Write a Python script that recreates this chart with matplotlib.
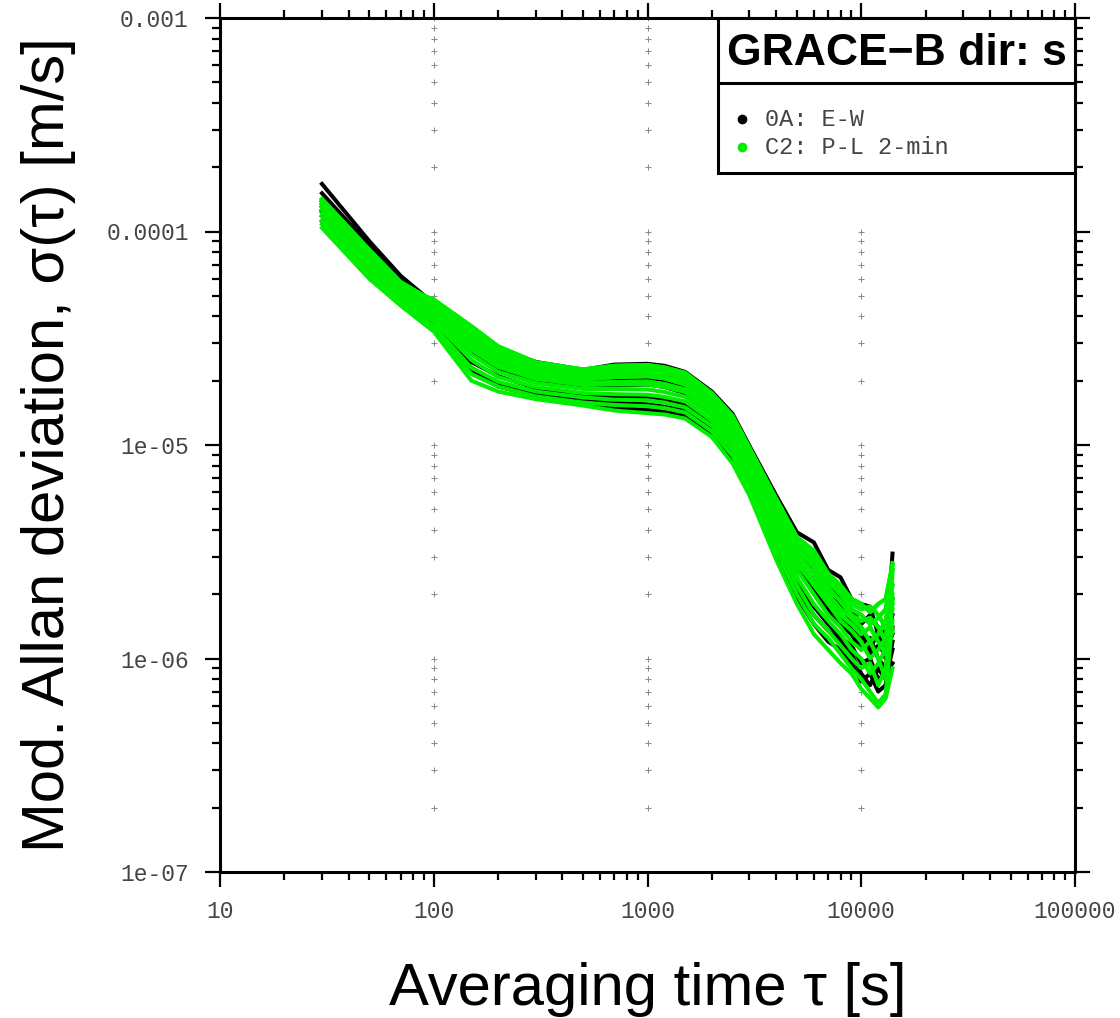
import numpy as np
import matplotlib
matplotlib.use("Agg")
import matplotlib.pyplot as plt
from matplotlib.ticker import LogLocator, NullFormatter
from matplotlib.patches import Rectangle

# averaging times [s]
tau = [30, 50, 70, 100, 150, 200, 300, 500, 700, 1000, 1200, 1500, 2000, 2500, 3000,
       4000, 5000, 6000, 7000, 8000, 9000, 10000, 11000, 12000, 13000, 14000]

# 0A: E-W curves, modified Allan deviation in 1e-6 m/s
ew_curves = [
    [167, 90, 62, 46, 34, 28.5, 24.5, 22.5, 23.8, 24, 23.5, 22, 17.8, 14.0, 9.9, 5.8, 3.9, 3.5, 2.6, 2.4, 1.9, 1.8, 1.75, 1.3, 1.0, 3.1],
    [151, 86, 59, 44, 31, 26, 22.5, 20.8, 21.2, 21.5, 21.0, 19.8, 15.8, 12.3, 8.6, 4.9, 3.2, 2.5, 2.0, 1.75, 1.5, 1.3, 1.1, 1.35, 1.2, 1.6],
    [138, 70, 50, 38, 23, 19.5, 17.5, 16.3, 15.8, 15.5, 15.1, 14.5, 12, 9.2, 6.6, 3.4, 2.1, 1.6, 1.35, 1.2, 1.05, 0.85, 0.75, 0.9, 0.8, 1.1],
    [131, 76, 54, 40, 27, 23, 20, 18.8, 19, 19.2, 18.7, 17.5, 14, 10.9, 7.7, 4.2, 2.6, 2.1, 1.7, 1.45, 1.3, 1.1, 1.25, 1.0, 0.9, 1.4],
    [124, 72, 53, 41, 32.5, 27, 23.5, 21.8, 22.5, 22.8, 22.2, 21, 16.8, 13.1, 9.2, 5.3, 3.4, 2.9, 2.3, 1.9, 1.7, 1.45, 1.6, 1.4, 1.3, 1.9],
    [112, 66, 48, 37, 24.5, 21, 18.5, 17.3, 16.8, 16.8, 16.4, 15.6, 12.8, 9.9, 7.0, 3.7, 2.3, 1.75, 1.45, 1.25, 1.15, 0.95, 1.0, 0.8, 0.85, 0.95],
    [126, 68, 49, 36, 22, 18.8, 17, 15.8, 15, 14.6, 14.3, 13.8, 11.4, 8.6, 6.2, 3.1, 1.95, 1.45, 1.2, 1.1, 0.95, 0.78, 0.85, 0.7, 0.75, 1.2],
    [118, 70, 51, 39, 29, 24.5, 21.2, 19.8, 20.2, 20.5, 20.0, 18.6, 15, 11.7, 8.2, 4.5, 2.9, 2.3, 1.85, 1.55, 1.4, 1.2, 1.05, 1.15, 1.05, 1.3],
]

# C2: P-L 2-min curves, 1e-6 m/s
pl_curves = [
    [104, 60, 45, 34, 20, 17.8, 16.4, 15.3, 14.5, 14.1, 13.9, 13.3, 10.9, 8.2, 5.8, 2.9, 1.8, 1.3, 1.1, 0.95, 0.85, 0.72, 0.65, 0.59, 0.65, 0.9],
    [108, 63, 46, 35, 21.5, 18.8, 16.9, 15.8, 15.4, 15.2, 14.9, 14.2, 11.6, 8.9, 6.3, 3.2, 2.0, 1.45, 1.25, 1.05, 0.9, 0.8, 0.7, 0.62, 0.68, 1.5],
    [112, 64, 47, 36, 23, 19.8, 17.8, 16.7, 16.3, 16.2, 15.8, 15, 12.3, 9.5, 6.7, 3.5, 2.2, 1.6, 1.35, 1.15, 1.0, 0.9, 0.95, 0.75, 0.9, 2.0],
    [118, 66, 48, 38, 25, 20.8, 18.7, 17.5, 17.3, 17.2, 16.8, 16, 13, 10.1, 7.1, 3.8, 2.4, 1.8, 1.5, 1.3, 1.1, 1.0, 0.85, 0.95, 1.1, 1.7],
    [122, 68, 50, 39.5, 26.5, 22, 19.5, 18.3, 18.3, 18.2, 17.7, 16.8, 13.7, 10.6, 7.5, 4.1, 2.6, 2.0, 1.6, 1.4, 1.2, 1.1, 1.2, 1.0, 0.8, 2.5],
    [126, 70, 52, 41, 28, 23.2, 20.4, 19.1, 19.2, 19.2, 18.7, 17.7, 14.3, 11.1, 7.9, 4.4, 2.8, 2.2, 1.8, 1.5, 1.35, 1.2, 1.0, 1.1, 1.25, 2.8],
    [130, 72, 53, 42, 29, 24, 20.9, 19.5, 19.7, 19.8, 19.3, 18.2, 14.7, 11.4, 8.1, 4.5, 2.9, 2.3, 1.9, 1.6, 1.45, 1.3, 1.4, 1.2, 1.05, 1.35],
    [134, 75, 54, 43.5, 30.5, 25.2, 21.7, 20.3, 20.8, 21, 20.5, 19.2, 15.4, 12.0, 8.5, 4.8, 3.1, 2.5, 2.0, 1.7, 1.55, 1.4, 1.2, 1.3, 1.5, 2.2],
    [138, 78, 56, 45, 32, 26.3, 22.5, 21, 21.7, 21.9, 21.3, 20.1, 16.1, 12.6, 8.9, 5.0, 3.3, 2.7, 2.15, 1.85, 1.6, 1.5, 1.55, 1.4, 1.2, 1.8],
    [140, 80, 57, 46, 33.5, 27.3, 23.3, 21.7, 22.5, 22.7, 22.1, 20.9, 16.7, 13.0, 9.2, 5.2, 3.5, 2.9, 2.3, 2.0, 1.7, 1.6, 1.45, 1.55, 1.7, 2.6],
    [142, 82, 58, 47, 35, 28, 23.9, 22.3, 23.1, 23.3, 22.7, 21.4, 17.2, 13.4, 9.5, 5.4, 3.6, 3.1, 2.4, 2.1, 1.8, 1.7, 1.75, 1.6, 1.4, 1.9],
    [135, 76, 55, 48, 36, 29, 24.4, 22.6, 23.5, 23.7, 23.1, 21.8, 17.5, 13.7, 9.7, 5.6, 3.7, 3.2, 2.5, 2.2, 1.9, 1.8, 1.65, 1.8, 1.9, 2.75],
]

xticks = [10, 100, 1000, 10000, 100000]
xtick_labels = ["10", "100", "1000", "10000", "100000"]
yticks = [1e-7, 1e-6, 1e-5, 1e-4, 1e-3]
ytick_labels = ["1e-07", "1e-06", "1e-05", "0.0001", "0.001"]

green = "#00ee00"
mono = "Liberation Mono"
sans = "Liberation Sans"

fig = plt.figure(figsize=(11.2, 10.18), dpi=100)
ax = fig.add_axes([220/1120, 146/1018, 855/1120, 854/1018])
ax.set_xscale("log")
ax.set_yscale("log")
ax.set_xlim(10, 100000)
ax.set_ylim(1e-7, 1e-3)

# dotted "+" grid along the major x ticks
gx = [100, 1000, 10000]
gy = [m * 10.0**k for k in range(-7, -3) for m in range(1, 10)][1:] + [1e-3]
GX, GY = np.meshgrid(gx, gy)
ax.plot(GX.ravel(), GY.ravel(), ls="", marker="+", ms=4, mew=0.7,
        color="#888888", zorder=1)

# interleave the two sets, green mostly on top
t = np.array(tau)
n = max(len(ew_curves), len(pl_curves))
for i in range(n):
    if i < len(ew_curves):
        ax.plot(t, np.array(ew_curves[i]) * 1e-6, color="black", lw=2.9, zorder=2)
    if i < len(pl_curves):
        ax.plot(t, np.array(pl_curves[i]) * 1e-6, color=green, lw=2.9, zorder=3)
for c in pl_curves[n // 2:]:
    ax.plot(t, np.array(c) * 1e-6, color=green, lw=2.9, zorder=3)

ax.set_xticks(xticks, labels=xtick_labels)
ax.set_yticks(yticks, labels=ytick_labels)
ax.xaxis.set_minor_locator(LogLocator(base=10, subs=np.arange(2, 10)))
ax.yaxis.set_minor_locator(LogLocator(base=10, subs=np.arange(2, 10)))
ax.xaxis.set_minor_formatter(NullFormatter())
ax.yaxis.set_minor_formatter(NullFormatter())
ax.tick_params(which="both", direction="out", top=True, right=True, width=1.6)
ax.tick_params(which="major", length=10.5)
ax.tick_params(which="minor", length=5.5)
ax.tick_params(axis="x", which="major", pad=10)
ax.tick_params(axis="y", which="major", pad=12)
for lab in ax.get_xticklabels() + ax.get_yticklabels():
    lab.set_fontfamily(mono)
    lab.set_fontsize(16.5)
    lab.set_color("#444444")
for s in ax.spines.values():
    s.set_linewidth(2.2)

ax.set_xlabel("Averaging time \u03c4 [s]", fontfamily=sans, fontsize=43, labelpad=28)
ax.set_ylabel("Mod. Allan deviation, \u03c3(\u03c4) [m/s]", fontfamily=sans,
              fontsize=43, labelpad=22)

# legend box with title cell
x0, y0, y1 = 0.5825, 0.8185, 0.9239
ax.add_patch(Rectangle((x0, y0), 1 - x0, 1 - y0, transform=ax.transAxes,
                       facecolor="white", edgecolor="black", lw=2.2, zorder=5,
                       clip_on=False))
ax.plot([x0, 1], [y1, y1], transform=ax.transAxes, color="black", lw=2.2,
        zorder=6, clip_on=False)
ax.text((x0 + 1) / 2, 0.9585, "GRACE\u2212B dir: s", transform=ax.transAxes,
        ha="center", va="center", fontfamily=sans, fontweight="bold",
        fontsize=32, zorder=7)
for yy, col, txt in [(0.8817, "black", "0A: E-W"), (0.8489, green, "C2: P-L 2-min")]:
    ax.plot([0.6105], [yy], transform=ax.transAxes, marker="o", ms=6,
            color=col, ls="", zorder=7, clip_on=False)
    ax.text(0.6374, yy, txt, transform=ax.transAxes, ha="left", va="center",
            fontfamily=mono, fontsize=17, color="#444444", zorder=7)

fig.savefig("out.png", dpi=100)
